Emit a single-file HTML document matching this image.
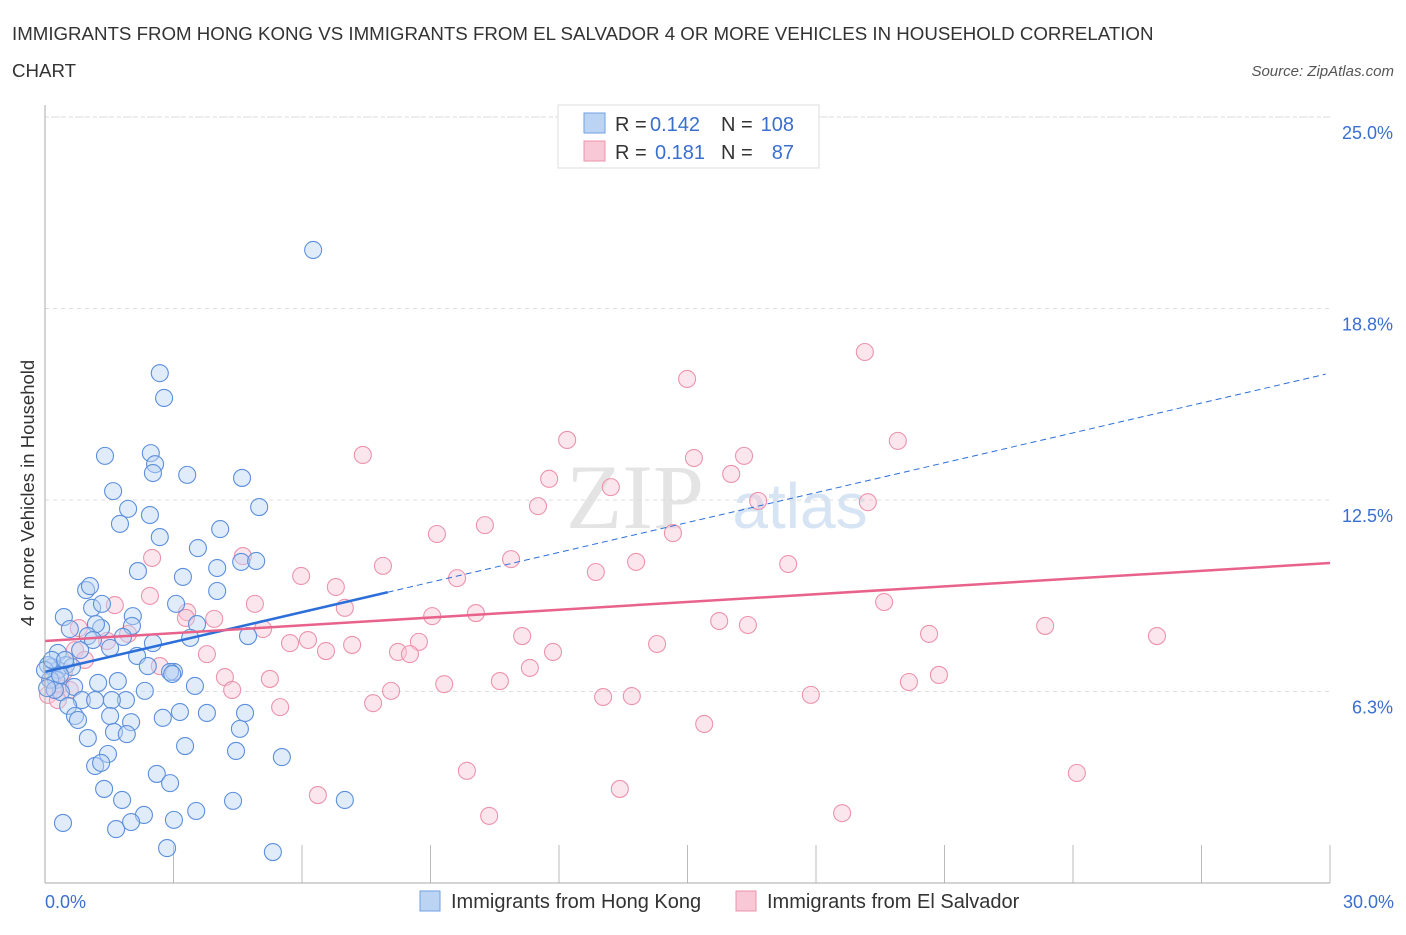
<!DOCTYPE html>
<html><head><meta charset="utf-8"><style>
body{margin:0;background:#fff;width:1406px;height:930px;overflow:hidden;font-family:"Liberation Sans",sans-serif}
</style></head><body>
<svg id="chart" width="1406" height="930" xmlns="http://www.w3.org/2000/svg">
<text x="12" y="40" font-size="18.7" fill="#333">IMMIGRANTS FROM HONG KONG VS IMMIGRANTS FROM EL SALVADOR 4 OR MORE VEHICLES IN HOUSEHOLD CORRELATION</text>
<text x="12" y="77" font-size="18.7" fill="#333">CHART</text>
<text x="1394" y="76" font-size="15" fill="#555" font-style="italic" text-anchor="end">Source: ZipAtlas.com</text>
<text x="635" y="528" font-size="92" fill="#e4e4e4" font-family="Liberation Serif,serif" text-anchor="middle">ZIP</text>
<text x="800" y="528" font-size="64" fill="#d6e4f4" text-anchor="middle">atlas</text>
<g id="grid"></g><g id="pts"></g><g id="lines"></g>
<line x1="45" y1="105" x2="45" y2="883" stroke="#aaa"/>
<line x1="45" y1="883" x2="1330" y2="883" stroke="#aaa"/>
<text x="45" y="908" font-size="18" fill="#3a6fd0">0.0%</text>
<text x="1394" y="908" font-size="18" fill="#3a6fd0" text-anchor="end">30.0%</text>
<text transform="translate(34,493) rotate(-90)" font-size="18.5" fill="#333" text-anchor="middle">4 or more Vehicles in Household</text>
<g>
<rect x="558" y="105" width="261" height="63" fill="#fff" stroke="#ddd"/>
<rect x="584" y="113" width="21" height="20" fill="#bcd4f4" stroke="#6f9fe0"/>
<rect x="584" y="141" width="21" height="20" fill="#f8c8d6" stroke="#eb93ac"/>
<text x="615" y="131" font-size="20" fill="#333">R =</text>
<text x="650" y="131" font-size="20" fill="#3a6fd0">0.142</text>
<text x="721" y="131" font-size="20" fill="#333">N =</text>
<text x="794" y="131" font-size="20" fill="#3a6fd0" text-anchor="end">108</text>
<text x="615" y="159" font-size="20" fill="#333">R =</text>
<text x="655" y="159" font-size="20" fill="#3a6fd0">0.181</text>
<text x="721" y="159" font-size="20" fill="#333">N =</text>
<text x="794" y="159" font-size="20" fill="#3a6fd0" text-anchor="end">87</text>
</g>
<g>
<rect x="420" y="891" width="20" height="20" fill="#bcd4f4" stroke="#6f9fe0"/>
<text x="451" y="908" font-size="20" fill="#333">Immigrants from Hong Kong</text>
<rect x="736" y="891" width="20" height="20" fill="#f8c8d6" stroke="#eb93ac"/>
<text x="767" y="908" font-size="20" fill="#333">Immigrants from El Salvador</text>
</g>
</svg>
<script>
const yTicks=[6.25,12.5,18.75,25];
const yTickLabels=["6.3%","12.5%","18.8%","25.0%"];
const xTicks=[3,6,9,12,15,18,21,24,27,30];
const bluePx=[[313,250],[160,373],[164,398],[105,456],[151,453],[155,464],[153,473],[187,475],[242,478],[113,491],[259,507],[128,509],[150,515],[120,524],[220,529],[160,537],[198,548],[138,571],[183,577],[217,568],[241,562],[256,561],[217,591],[86,590],[90,586],[64,617],[92,608],[102,604],[133,616],[132,626],[176,604],[197,624],[101,628],[70,629],[96,624],[88,636],[93,640],[123,637],[153,643],[110,648],[190,638],[248,636],[137,656],[58,653],[66,665],[52,667],[58,670],[72,667],[174,672],[148,666],[170,672],[56,680],[74,687],[98,683],[118,681],[126,700],[145,691],[172,674],[195,686],[61,692],[82,700],[112,700],[68,706],[75,716],[78,720],[110,716],[131,722],[114,732],[127,734],[180,712],[163,718],[207,713],[240,729],[245,713],[88,738],[108,754],[95,766],[101,763],[185,746],[236,751],[282,757],[157,774],[170,783],[104,789],[122,800],[196,811],[144,815],[174,820],[116,829],[131,822],[233,801],[345,800],[63,823],[167,848],[273,852],[48,665],[50,680],[55,690],[45,670],[52,660],[60,675],[47,688],[65,660],[95,700],[80,650]];
const pinkPx=[[865,352],[687,379],[567,440],[898,441],[363,455],[694,458],[744,456],[731,474],[549,479],[611,487],[538,506],[758,501],[868,502],[485,525],[437,534],[673,533],[152,558],[243,556],[511,559],[636,562],[383,566],[301,576],[336,587],[457,578],[596,572],[788,564],[884,602],[150,596],[115,605],[187,612],[255,604],[345,608],[186,618],[214,619],[432,616],[476,613],[719,621],[748,625],[1045,626],[1157,636],[929,634],[79,628],[107,641],[128,634],[263,629],[290,643],[308,640],[352,645],[398,652],[419,642],[410,654],[522,636],[657,644],[553,652],[326,651],[207,654],[160,666],[270,679],[225,677],[232,690],[280,707],[373,703],[391,691],[444,684],[500,681],[530,668],[603,697],[632,696],[811,695],[909,682],[939,675],[704,724],[467,771],[1077,773],[318,795],[620,789],[489,816],[842,813],[48,695],[55,690],[60,685],[70,690],[64,672],[75,650],[85,660],[58,700],[52,680]];
// data values (x %, y %)
const blueX=bluePx.map(p=>+((p[0]-45)/42.833).toFixed(2));
const blueY=bluePx.map(p=>+((883-p[1])/30.64).toFixed(2));
const pinkX=pinkPx.map(p=>+((p[0]-45)/42.833).toFixed(2));
const pinkY=pinkPx.map(p=>+((883-p[1])/30.64).toFixed(2));
const blueTrend=[6.89,0.325];
const pinkTrend=[7.90,0.0848];
const X=v=>45+v*42.833, Y=v=>883-v*30.64;
const NS="http://www.w3.org/2000/svg";
function mk(tag,attrs,parent){const e=document.createElementNS(NS,tag);for(const k in attrs)e.setAttribute(k,attrs[k]);parent.appendChild(e);return e;}
const grid=document.getElementById('grid');
mk('line',{x1:45,y1:Y(25)+0,x2:1330,y2:Y(25),stroke:'#ddd','stroke-dasharray':'3,3'},grid);
yTicks.forEach((t,i)=>{
 const l=mk('line',{x1:45,y1:Y(t),x2:1330,y2:Y(t),stroke:'#ddd','stroke-dasharray':'4,4'},grid);
 
 
 const tx=mk('text',{x:1393,y:Y(t)+22,'font-size':18,fill:'#3a6fd0','text-anchor':'end'},grid);
 tx.textContent=yTickLabels[i];
 
 
});
xTicks.forEach(t=>{
 const l=mk('line',{x1:X(t),y1:845,x2:X(t),y2:883,stroke:'#bbb'},grid);
 
 
});
const pts=document.getElementById('pts');
function drawSeries(xs,ys,fill,stroke,name){
 xs.forEach((x,i)=>{
  const c=mk('circle',{cx:X(x),cy:Y(ys[i]),r:8.5,fill:fill,'fill-opacity':0.45,stroke:stroke,'stroke-width':1.1},pts);
  
  
 });
}
drawSeries(pinkX,pinkY,'#f8c8d6','#eb93ac','el-salvador-point');
drawSeries(blueX,blueY,'#bcd4f4','#5b8fdc','hong-kong-point');
const lines=document.getElementById('lines');
let l=mk('line',{x1:X(0),y1:Y(blueTrend[0]),x2:X(8),y2:Y(blueTrend[0]+8*blueTrend[1]),stroke:'#2c6fd8','stroke-width':2.5},lines);


l=mk('line',{x1:X(8),y1:Y(blueTrend[0]+8*blueTrend[1]),x2:X(29.9),y2:Y(blueTrend[0]+29.9*blueTrend[1]),stroke:'#2c6fd8','stroke-width':1,'stroke-dasharray':'6,4'},lines);


l=mk('line',{x1:X(0),y1:Y(pinkTrend[0]),x2:X(30),y2:Y(pinkTrend[0]+30*pinkTrend[1]),stroke:'#e8628c','stroke-width':2.5},lines);


</script>
</body></html>
